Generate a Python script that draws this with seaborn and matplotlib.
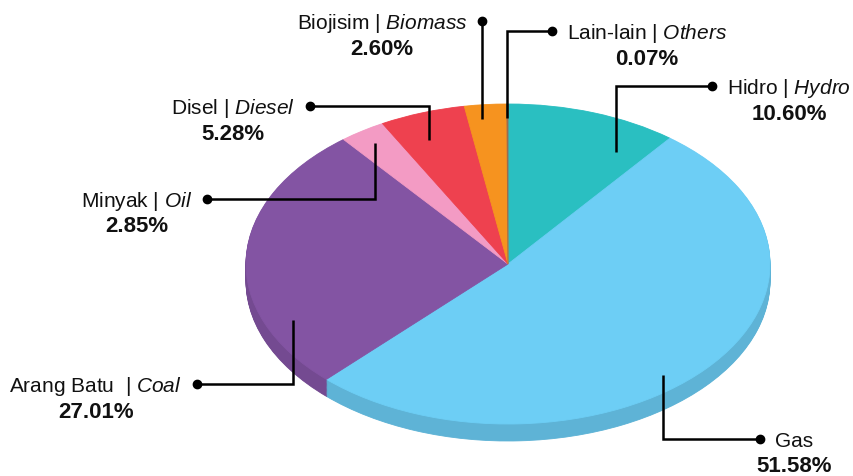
import matplotlib
matplotlib.use("Agg")
import matplotlib.pyplot as plt
import seaborn as sns
import numpy as np

# ---------------- data ----------------
labels_my = ["Hidro", "Gas", "Arang Batu", "Minyak", "Disel", "Biojisim", "Lain-lain"]
labels_en = ["Hydro", "Gas", "Coal", "Oil", "Diesel", "Biomass", "Others"]
shares = [10.60, 51.58, 27.01, 2.85, 5.28, 2.60, 0.07]
pct_labels = ["10.60%", "51.58%", "27.01%", "2.85%", "5.28%", "2.60%", "0.07%"]

top_colors = ["#2ABFC1", "#6DCEF5", "#8354A3", "#F39BC4", "#EE414F", "#F6931F", "#9C6B4E"]
side_colors = ["#24A3A5", "#5EB3D6", "#744A91", "#D487AA", "#CF3845", "#D6801A", "#875C43"]

# ---------------- layout (pixels of an 854x477 canvas) ----------------
W, H = 854, 477
CX, CY, RX, RY = 508, 265, 262, 160
DEPTH_PX = 17
# per slice: fraction across wedge for anchor, radius of anchor, label y (px), dot x (px), side
layout = [
    (0.80, 0.81, 87, 712, "right"),
    (0.545, 0.91, 440, 760, "right"),
    (0.237, 0.89, 385, 197, "left"),
    (0.48, 0.91, 200, 207, "left"),
    (0.39, 0.83, 107, 310, "left"),
    (0.37, 0.91, 22, None, "left"),
    (0.5, 0.91, 32, 552, "right"),
]
bar_sep = [" ", "", "  ", " ", " ", " ", " "]

sns.set_theme(style="white")
plt.rcParams["font.family"] = ["Liberation Sans", "DejaVu Sans"]
plt.rcParams["mathtext.fontset"] = "custom"
plt.rcParams["mathtext.rm"] = "Liberation Sans"
plt.rcParams["mathtext.it"] = "Liberation Sans:italic"
plt.rcParams["mathtext.bf"] = "Liberation Sans:bold"

fig = plt.figure(figsize=(W / 100, H / 100), dpi=100)
ax = fig.add_axes([0, 0, 1, 1])

def px2data(px, py):
    return (px - CX) / RX, (CY - py) / RY

def seal(wedges):
    for w in wedges:
        w.set_edgecolor(w.get_facecolor())
        w.set_linewidth(0.6)

depth = DEPTH_PX / RY
n_layers = 20
for k in range(n_layers, 0, -1):
    wedges, _ = ax.pie(shares, colors=side_colors, startangle=90, counterclock=False,
                       center=(0, -depth * k / n_layers), radius=1)
    seal(wedges)
wedges, _ = ax.pie(shares, colors=top_colors, startangle=90, counterclock=False,
                   center=(0, 0), radius=1)
seal(wedges)

ax.set_aspect("auto")
ax.set_xlim(-CX / RX, (W - CX) / RX)
ax.set_ylim(-(H - CY) / RY, CY / RY)
ax.axis("off")

total = float(sum(shares))
cum = np.concatenate([[0], np.cumsum(shares)]) / total

px_pt = 0.72
for i, (frac, r, ly_px, dx_px, side) in enumerate(layout):
    theta = np.deg2rad(360 * (cum[i] + frac * (cum[i + 1] - cum[i])))
    axx, axy = r * np.sin(theta), r * np.cos(theta)
    _, ly = px2data(0, ly_px)
    dx = axx if dx_px is None else px2data(dx_px, 0)[0]
    ax.plot([axx, axx, dx], [axy, ly, ly], color="black", lw=1.8,
            solid_joinstyle="miter", solid_capstyle="butt", zorder=5)
    ax.plot([dx], [ly], "o", color="black", ms=6, zorder=6)

    if labels_my[i] == labels_en[i]:
        txt = labels_my[i]
    else:
        txt = f"{labels_my[i]}{bar_sep[i]}| $\\mathit{{{labels_en[i]}}}$"
    gap = 15 * px_pt
    t1 = ax.annotate(txt, xy=(dx, ly), xycoords="data",
                     xytext=(gap if side == "right" else -gap, -1.5 * px_pt),
                     textcoords="offset points",
                     ha="left" if side == "right" else "right", va="center",
                     fontsize=15, color="#111111", zorder=7)
    ax.annotate(pct_labels[i], xy=(0.5, ly), xycoords=(t1, "data"),
                xytext=(0, -27 * px_pt), textcoords="offset points",
                ha="center", va="center", fontsize=16, fontweight="bold",
                color="#111111", zorder=7)

fig.savefig("out.png", dpi=100)
